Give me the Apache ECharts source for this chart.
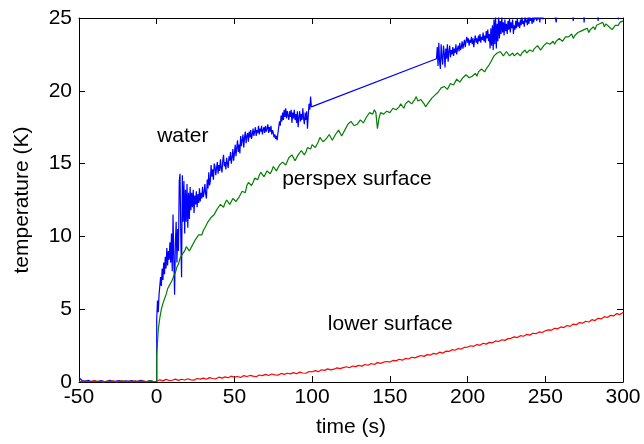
<!DOCTYPE html>
<html><head><meta charset="utf-8">
<script src="https://cdn.jsdelivr.net/npm/echarts@6/dist/echarts.min.js"></script>
<style>html,body{margin:0;padding:0;background:#fff}#c{width:644px;height:444px}</style>
</head><body><div id="c"></div>
<script>
// ---- axis ticks ----
const xTicks = [-50, 0, 50, 100, 150, 200, 250, 300];
const yTicks = [0, 5, 10, 15, 20, 25];

// ---- water (blue) ----
// t = -50..0 step 2
const waterPre = [0.3,0.1,0.05,0.12,0.02,0.08,0.0,0.1,0.05,0.03,0.12,0.0,0.06,0.1,0.02,0.08,0.04,0.1,0.0,0.07,0.12,0.03,0.05,0.09,0.02,0.05];
// t = 0..30 step 0.5
const waterRise = [4.3,5.6,4.8,6.0,5.9,7.2,6.6,7.8,7.0,8.2,7.4,8.6,7.8,9.2,8.0,9.0,8.4,9.6,8.2,10.2,7.6,11.5,8.5,6.0,9.5,11.0,8.2,10.5,9.0,13.8,14.3,10.0,7.2,14.2,11.0,13.8,10.2,13.2,11.0,13.6,10.6,13.0,11.2,13.4,11.8,13.0,12.0,13.2,11.6,12.8,12.2,13.1,12.0,12.9,12.3,13.3,12.4,13.0,12.6,13.4,12.7];
// t = 30.5..100 step 0.5
const waterMid = [13.0,13.6,12.9,12.6,13.9,13.3,14.4,13.5,13.8,14.9,14.1,14.6,13.9,15.0,14.8,14.2,14.7,15.1,14.3,14.9,
14.5,15.3,14.7,14.4,15.2,15.6,14.8,15.1,14.6,15.4,15.0,14.7,15.5,15.2,15.8,15.0,15.4,16.0,15.2,15.7,
16.3,15.5,16.1,16.6,15.8,16.3,15.7,16.9,16.2,16.6,17.0,16.1,16.8,17.2,16.4,16.9,17.1,16.5,17.2,16.8,
17.3,16.7,17.0,17.4,16.9,17.2,17.5,16.9,17.3,17.1,17.6,17.0,17.4,17.2,17.6,17.0,17.3,17.5,17.1,17.6,
17.2,17.4,17.7,17.1,17.5,17.2,17.6,17.0,17.3,17.1,16.8,17.0,16.7,16.9,16.6,17.1,17.5,17.9,17.6,18.3,
17.9,18.5,18.0,18.7,18.2,18.8,18.1,18.6,18.3,18.0,18.6,18.2,18.7,17.8,18.5,18.1,18.7,18.0,18.4,17.8,
18.6,17.5,18.2,18.6,17.9,18.4,18.0,18.8,18.1,17.7,18.5,18.0,18.6,17.4,18.3,19.1,18.7,19.6,18.9,19.0];
// t = 180..250 step 0.5
const waterLate = [22.2,23.0,21.7,23.3,22.0,21.5,23.2,22.3,21.8,23.1,22.6,21.6,22.9,22.2,23.2,22.0,22.7,23.1,22.3,22.8,
22.5,23.0,22.4,22.9,22.6,23.2,22.5,22.9,23.1,22.7,23.3,22.8,23.0,23.4,22.9,23.2,23.5,23.0,23.4,23.7,
23.3,23.6,23.1,23.5,23.3,23.7,23.2,23.6,23.0,23.5,23.8,23.3,23.6,23.2,23.8,23.4,23.9,23.3,23.7,23.5,
24.0,23.4,23.8,23.3,24.1,23.6,24.2,23.4,23.9,22.9,24.3,23.1,24.5,22.8,24.9,23.2,25.2,22.9,24.6,23.4,
25.3,23.6,24.8,23.9,25.1,24.0,24.7,23.8,24.9,24.1,24.6,23.9,24.8,24.2,25.0,24.0,24.7,24.3,24.9,23.9,
24.5,24.2,24.8,24.3,25.0,24.4,24.7,24.3,24.9,24.5,25.1,24.6,24.8,24.4,25.2,24.7,24.9,24.5,25.1,24.6,
25.3,24.8,25.0,24.6,25.2,24.7,25.1,24.9,25.4,24.8,25.2,24.9,25.3,24.7,25.4,25.0,25.3,24.9,25.5,25.1,25.3];
// t = 251..300 step 1
const waterEnd = [25.6,25.1,25.7,25.4,25.8,25.3,24.7,25.6,25.9,25.5,26.0,25.6,25.2,25.8,26.1,25.7,26.0,24.8,25.9,26.2,
25.8,26.3,25.9,26.1,24.7,26.2,26.0,26.4,26.1,26.3,26.0,26.5,26.2,24.8,26.4,26.6,26.3,26.7,26.4,26.8,
26.5,26.9,26.6,26.8,26.5,26.9,24.9,26.7,27.0,26.8];

// ---- perspex surface (green) ----
// t = -50..0 step 2
const perspexPre = [0.04,0.0,0.06,0.02,0.05,0.01,0.07,0.03,0.0,0.05,0.02,0.06,0.01,0.04,0.08,0.02,0.05,0.0,0.06,0.03,0.07,0.01,0.04,0.09,0.02,0.05];
// t = 0..300 step 1
const perspexVals = [
1.8,3.6,4.4,5.0,5.4,5.7,6.0,6.4,6.6,6.8,
7.0,7.3,7.5,7.9,8.1,8.5,8.7,8.6,9.0,9.3,
9.2,9.0,9.1,9.4,9.5,9.8,9.9,10.1,10.2,10.1,
10.4,10.6,10.7,11.0,11.1,11.3,11.3,11.5,11.7,11.9,
11.9,12.2,12.1,12.0,12.3,12.5,12.4,12.2,12.3,12.6,
12.6,12.4,12.5,12.7,12.8,13.1,13.2,13.0,13.5,13.7,
13.8,13.5,13.7,14.0,14.1,13.9,14.2,14.4,14.4,14.1,
14.2,14.5,14.6,14.3,14.5,14.8,14.8,14.5,14.6,14.9,
14.9,15.1,15.2,14.9,15.0,15.4,15.4,15.6,15.5,15.2,
15.3,15.6,15.7,15.9,15.9,15.6,15.8,16.1,16.2,16.0,
16.3,16.4,16.1,16.3,16.5,16.8,16.7,16.5,16.4,16.7,
16.8,17.0,16.9,16.6,16.7,17.0,17.1,17.3,17.2,16.9,
17.0,17.3,17.4,17.7,17.6,17.9,17.8,17.6,17.5,17.7,
17.8,18.0,18.1,17.8,17.9,18.2,18.3,18.5,18.6,18.4,
18.7,18.5,17.4,18.1,18.5,18.6,18.4,18.3,18.6,18.7,
18.5,18.6,18.8,18.9,18.7,18.6,18.9,19.1,19.0,18.8,
19.1,19.2,19.3,19.4,19.1,19.2,19.4,19.6,19.3,19.2,
19.4,19.3,19.1,18.9,18.9,19.2,19.3,19.5,19.6,19.7,
19.8,19.9,19.9,20.2,20.1,20.3,20.3,20.1,20.2,20.5,
20.6,20.4,20.5,20.8,20.8,20.6,20.7,20.9,20.9,21.1,
21.0,20.9,20.8,21.0,21.1,21.2,21.0,21.3,21.3,21.5,
21.4,21.3,21.5,21.6,21.8,22.0,22.1,22.4,22.3,22.6,
22.5,22.7,22.6,22.4,22.4,22.7,22.6,22.4,22.5,22.6,
22.4,22.3,22.6,22.5,22.4,22.6,22.7,22.8,22.6,22.7,
22.8,22.9,22.7,22.9,22.9,23.1,23.0,22.8,22.9,23.1,
23.1,23.3,23.2,23.2,23.3,23.4,23.2,23.4,23.4,23.6,
23.5,23.4,23.4,23.7,23.6,23.7,23.7,23.9,23.6,23.8,
23.8,24.0,23.9,24.1,24.0,24.2,24.1,24.3,24.0,24.2,
24.3,24.4,24.2,24.5,24.4,24.6,24.5,24.7,24.4,24.6,
24.5,24.4,24.3,24.2,24.2,24.5,24.6,24.5,24.7,24.6,
24.8];

// ---- lower surface (red) ----
// t = -50..300 step 2
const lowerVals = [
0.05,0.02,0.07,0.01,0.04,0.09,0.02,0.05,0.0,0.06,0.03,0.08,0.01,0.04,0.06,0.02,0.05,0.03,0.08,0.02,0.04,0.06,0.01,0.05,0.03,
0.05,0.15,0.08,0.18,0.1,0.12,0.2,0.11,0.19,0.14,0.22,0.15,0.13,0.24,0.2,0.27,0.19,0.3,0.24,0.22,0.33,0.27,0.35,0.29,0.4,
0.33,0.38,0.31,0.44,0.38,0.45,0.4,0.36,0.48,0.44,0.52,0.45,0.55,0.49,0.47,0.59,0.52,0.6,0.56,0.64,0.57,0.68,0.62,0.6,0.72,
0.7,0.78,0.71,0.84,0.8,0.9,0.83,0.88,0.97,0.92,0.99,1.05,0.98,1.1,1.06,1.14,1.09,1.2,1.15,1.27,1.2,1.33,1.28,1.36,1.41,
1.37,1.48,1.45,1.56,1.5,1.62,1.58,1.7,1.66,1.74,1.82,1.76,1.88,1.84,1.97,1.92,2.05,1.98,2.12,2.1,2.22,2.18,2.3,2.26,2.38,
2.4,2.49,2.45,2.57,2.52,2.66,2.6,2.72,2.69,2.82,2.78,2.9,2.86,2.98,3.0,3.1,3.05,3.18,3.14,3.27,3.22,3.35,3.32,3.44,3.4,
3.52,3.58,3.56,3.69,3.65,3.78,3.74,3.88,3.82,3.98,3.93,4.08,4.04,4.17,4.12,4.28,4.22,4.38,4.33,4.49,4.43,4.58,4.54,4.7,4.63,4.78];

// ---- annotations (data coordinates) ----
const annotations = [
  {text: 'water', t: 0.3, v: 16.9},
  {text: 'perspex surface', t: 80.7, v: 13.9},
  {text: 'lower surface', t: 110.1, v: 4.0}
];

function seg(start, step, vals) {
  return vals.map((v, i) => [+(start + i * step).toFixed(3), v]);
}
const waterData = [].concat(seg(-50, 2, waterPre), seg(0, 0.5, waterRise), seg(30.5, 0.5, waterMid),
                            seg(180, 0.5, waterLate), seg(251, 1, waterEnd));
const perspexData = [].concat(seg(-50, 2, perspexPre), seg(0, 1, perspexVals));
const lowerData = seg(-50, 2, lowerVals);

const FONT = 'Liberation Sans, Arial, Helvetica, sans-serif';
const chart = echarts.init(document.getElementById('c'), null, {renderer: 'canvas'});
const xMin = xTicks[0], xMax = xTicks[xTicks.length - 1], xInt = xTicks[1] - xTicks[0];
const yMin = yTicks[0], yMax = yTicks[yTicks.length - 1], yInt = yTicks[1] - yTicks[0];
const axisLine = {show: true, onZero: false, lineStyle: {color: '#000', width: 1}};
const tick = {show: true, inside: true, length: 6, lineStyle: {color: '#000', width: 1}};
const lbl = {color: '#000', fontSize: 21, fontFamily: FONT};
const LW = 1.2;

chart.setOption({
  animation: false,
  backgroundColor: '#fff',
  grid: {left: 79, right: 21, top: 18, bottom: 62, containLabel: false},
  xAxis: [
    {type: 'value', min: xMin, max: xMax, interval: xInt, position: 'bottom',
     axisLine, axisTick: tick, splitLine: {show: false},
     axisLabel: Object.assign({margin: 5}, lbl),
     name: 'time (s)', nameLocation: 'middle', nameGap: 35,
     nameTextStyle: {color: '#000', fontSize: 21, fontFamily: FONT}},
    {type: 'value', min: xMin, max: xMax, interval: xInt, position: 'top',
     axisLine, axisTick: tick, splitLine: {show: false}, axisLabel: {show: false}}
  ],
  yAxis: [
    {type: 'value', min: yMin, max: yMax, interval: yInt, position: 'left',
     axisLine, axisTick: tick, splitLine: {show: false},
     axisLabel: Object.assign({margin: 7}, lbl),
     name: 'temperature (K)', nameLocation: 'middle', nameGap: 46, nameRotate: 90,
     nameTextStyle: {color: '#000', fontSize: 21, fontFamily: FONT}},
    {type: 'value', min: yMin, max: yMax, interval: yInt, position: 'right',
     axisLine, axisTick: tick, splitLine: {show: false}, axisLabel: {show: false}}
  ],
  series: [
    {name: 'water', type: 'line', data: waterData, showSymbol: false, symbol: 'none', clip: true,
     lineStyle: {color: '#0000ff', width: LW}, itemStyle: {color: '#0000ff'}},
    {name: 'perspex surface', type: 'line', data: perspexData, showSymbol: false, symbol: 'none', clip: true,
     lineStyle: {color: '#008000', width: LW}, itemStyle: {color: '#008000'}},
    {name: 'lower surface', type: 'line', data: lowerData, showSymbol: false, symbol: 'none', clip: true,
     lineStyle: {color: '#ff0000', width: LW}, itemStyle: {color: '#ff0000'}}
  ]
});

chart.setOption({
  graphic: annotations.map(a => {
    const p = chart.convertToPixel({xAxisIndex: 0, yAxisIndex: 0}, [a.t, a.v]);
    return {type: 'text', x: p[0], y: p[1], silent: true,
      style: {text: a.text, fill: '#000', fontSize: 21, fontFamily: FONT, align: 'left', verticalAlign: 'middle'}};
  })
});
</script></body></html>
